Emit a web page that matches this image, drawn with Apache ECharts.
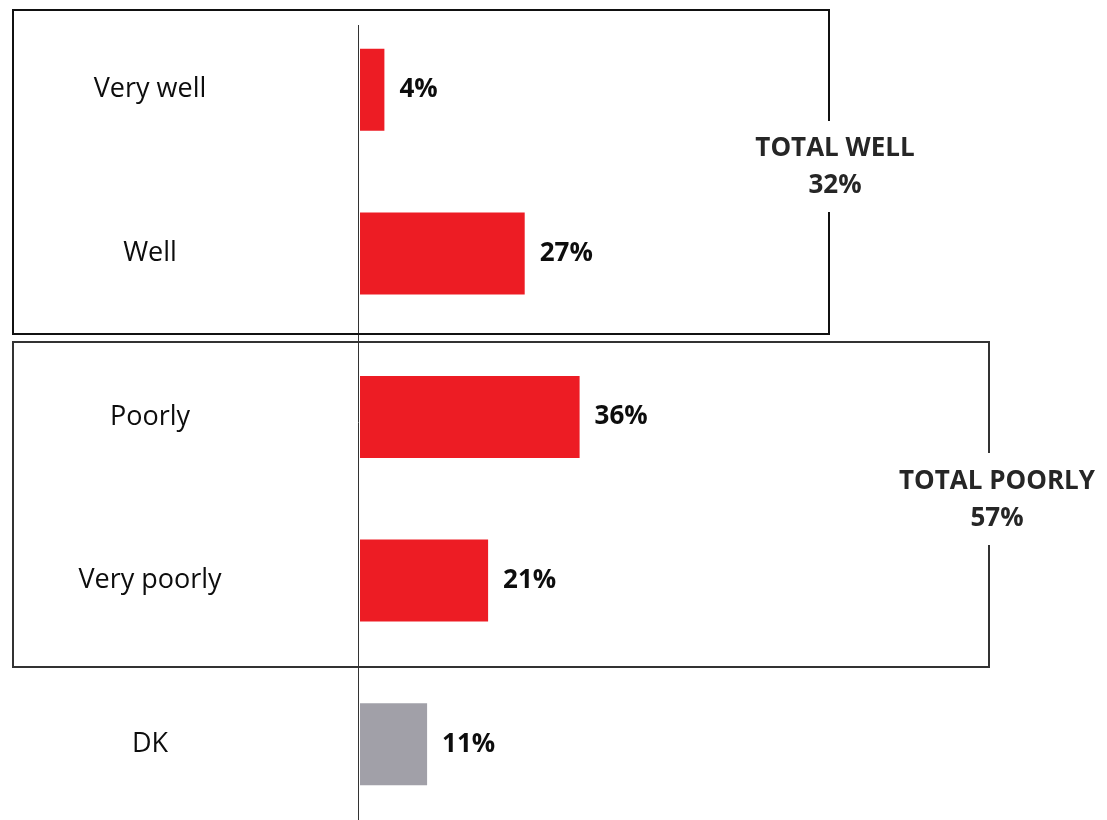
<!DOCTYPE html>
<html>
<head>
<meta charset="utf-8">
<script src="https://cdn.jsdelivr.net/npm/echarts@6/dist/echarts.min.js"></script>
<style>
  html, body { margin: 0; padding: 0; background: #fff; }
  #chart { width: 1107px; height: 820px; }
</style>
</head>
<body>
<div id="chart"></div>
<script>
// Answers, top to bottom
const categories = ['Very well', 'Well', 'Poorly', 'Very poorly', 'DK'];
const shares = [4, 27, 36, 21, 11];
const barColors = ['#ED1C24', '#ED1C24', '#ED1C24', '#ED1C24', '#A1A0A8'];

// Grouped totals shown beside the boxes
const groupNames = ['TOTAL WELL', 'TOTAL POORLY'];
const groupTotals = [32, 57];

const FONT = '"Open Sans", Roboto, sans-serif';

const chart = echarts.init(document.getElementById('chart'), null, { renderer: 'canvas' });

// Outline of a group box, leaving a gap on the right side for its caption
function boxOutline(x1, y1, x2, y2, gapTop, gapBottom, color) {
  return {
    type: 'polyline', silent: true,
    shape: { points: [[x2, gapTop], [x2, y1], [x1, y1], [x1, y2], [x2, y2], [x2, gapBottom]] },
    style: { stroke: color, lineWidth: 2, fill: null }
  };
}

function caption(cx, cy, name, total) {
  return {
    type: 'text', silent: true, x: cx, y: cy,
    style: {
      text: name + '\n' + total + '%',
      font: 'bold 26px ' + FONT,
      fill: '#262626',
      align: 'center',
      verticalAlign: 'middle',
      lineHeight: 37
    }
  };
}

chart.setOption({
  animation: false,
  backgroundColor: '#fff',
  grid: {
    left: 360, width: 610, top: 8, height: 818,
    containLabel: false,
    outerBoundsMode: 'none'
  },
  xAxis: {
    type: 'value', min: 0, max: 100,
    show: false
  },
  yAxis: {
    type: 'category',
    data: categories,
    inverse: true,
    axisLine: { show: false },
    axisTick: { show: false },
    splitLine: { show: false },
    axisLabel: {
      align: 'center',
      margin: 210,
      padding: [5, 0, 0, 0],
      color: '#0d0d0d',
      fontFamily: FONT,
      fontSize: 27
    }
  },
  series: [{
    type: 'bar',
    barWidth: 82,
    data: shares.map((v, i) => ({ value: v, itemStyle: { color: barColors[i] } })),
    label: {
      show: true,
      position: 'right',
      distance: 15,
      padding: [2, 0, 0, 0],
      formatter: p => p.value + '%',
      color: '#0d0d0d',
      fontFamily: FONT,
      fontWeight: 'bold',
      fontSize: 26
    }
  }],
  graphic: [
    // vertical baseline
    {
      type: 'line', silent: true,
      shape: { x1: 358.5, y1: 25, x2: 358.5, y2: 820 },
      style: { stroke: '#333', lineWidth: 1 }
    },
    boxOutline(13, 10, 829, 334, 121, 212, '#111'),
    boxOutline(13, 342, 989, 667, 453, 545, '#333'),
    caption(835, 167, groupNames[0], groupTotals[0]),
    caption(997, 500, groupNames[1], groupTotals[1])
  ]
});
</script>
</body>
</html>
